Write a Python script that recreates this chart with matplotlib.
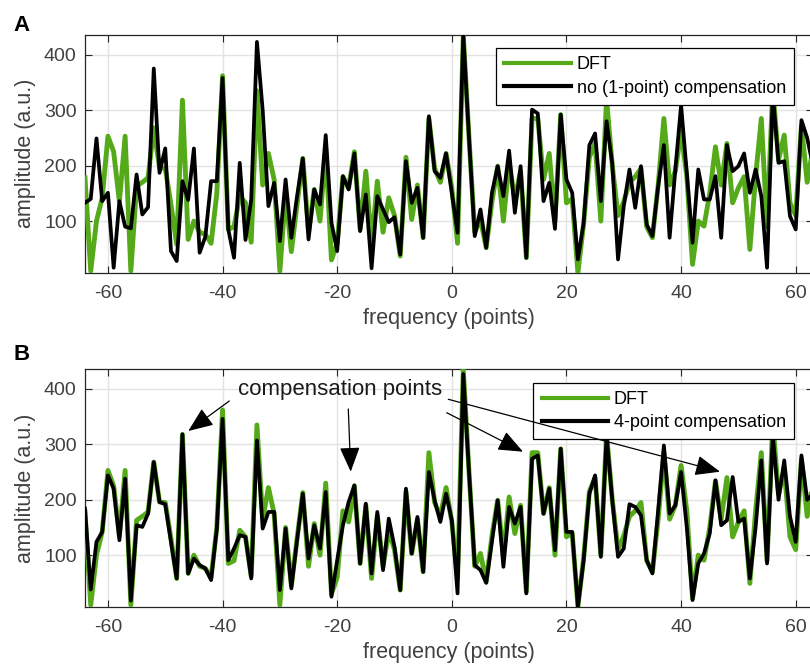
import numpy as np
import matplotlib
matplotlib.use("Agg")
import matplotlib.pyplot as plt
from matplotlib.lines import Line2D

plt.rcParams['font.family'] = ['Liberation Sans', 'DejaVu Sans']
plt.rcParams['axes.unicode_minus'] = False

freq = np.arange(-64, 64)

dft = [178, 10, 100, 142, 253, 225, 135, 253, 10, 163,
       170, 178, 268, 196, 195, 130, 58, 318, 67, 100,
       80, 76, 60, 150, 362, 85, 90, 145, 133, 62,
       335, 165, 222, 175, 10, 150, 45, 130, 213, 80,
       157, 100, 230, 30, 60, 180, 160, 225, 85, 190,
       58, 172, 80, 142, 110, 37, 215, 103, 165, 70,
       285, 195, 170, 222,
       160, 60, 436, 250, 80, 103, 52, 135, 199, 100,
       205, 139, 190, 34, 285, 285, 175, 222, 100, 292,
       133, 140, 7, 95, 215, 240, 100, 320, 200, 110,
       135, 170, 180, 195, 90, 70, 165, 285, 165, 190,
       262, 180, 22, 100, 91, 150, 234, 165, 240, 133,
       160, 180, 49, 180, 285, 90, 340, 210, 255, 133,
       110, 273, 170, 230]

no_comp = [133, 140, 249, 136, 151, 16, 136, 90, 87, 184,
           112, 125, 375, 187, 231, 46, 28, 172, 138, 231,
           43, 72, 172, 172, 358, 85, 34, 205, 66, 139,
           423, 300, 127, 169, 64, 175, 70, 145, 213, 67,
           157, 130, 255, 97, 46, 181, 157, 222, 82, 148,
           15, 145, 121, 98, 107, 40, 208, 133, 160, 70,
           289, 190, 178, 222,
           150, 79, 436, 250, 73, 121, 52, 151, 199, 145,
           227, 115, 199, 34, 301, 294, 136, 169, 86, 292,
           175, 151, 31, 97, 237, 258, 136, 280, 203, 31,
           127, 193, 124, 199, 94, 73, 163, 237, 70, 193,
           309, 187, 61, 193, 139, 139, 181, 70, 237, 190,
           199, 222, 151, 193, 145, 16, 330, 205, 208, 109,
           85, 282, 250, 200]

comp4 = [184, 38, 124, 142, 244, 220, 127, 238, 18, 154,
         151, 175, 268, 196, 192, 124, 58, 318, 67, 94,
         82, 76, 55, 148, 346, 91, 112, 136, 133, 58,
         307, 148, 178, 178, 37, 148, 40, 127, 211, 94,
         154, 112, 214, 25, 91, 154, 196, 226, 85, 193,
         67, 178, 73, 166, 115, 37, 220, 103, 169, 70,
         250, 199, 160, 211,
         163, 31, 427, 250, 82, 73, 50, 124, 199, 79,
         187, 157, 187, 31, 274, 280, 175, 220, 109, 292,
         142, 142, 7, 91, 211, 244, 97, 315, 199, 97,
         112, 192, 187, 172, 91, 67, 181, 298, 175, 190,
         250, 150, 19, 85, 103, 139, 235, 154, 163, 241,
         160, 166, 58, 150, 271, 85, 316, 200, 271, 170,
         124, 280, 200, 210]

xticks = [-60, -40, -20, 0, 20, 40, 60]
yticks = [100, 200, 300, 400]

GREEN = '#55AA1A'
TXT = '#404040'
W, H = 810, 670

fig = plt.figure(figsize=(W / 100, H / 100), dpi=100)


def px_axes(left, top, right, bottom):
    return fig.add_axes([left / W, 1 - bottom / H, (right - left) / W, (bottom - top) / H])


axA = px_axes(85, 34.7, 812.9, 272.7)
axB = px_axes(85, 369.0, 812.9, 606.7)

panels = [(axA, no_comp, 'no (1-point) compensation', (794, 48.3)),
          (axB, comp4, '4-point compensation', (794, 382.7))]

for ax, black, lab, (lx, ly) in panels:
    ax.plot(freq, dft, color=GREEN, lw=3.5, label='DFT', zorder=3)
    ax.plot(freq, black, color='black', lw=2.7, label=lab, zorder=4)
    ax.set_xlim(-64, 63)
    ax.set_ylim(7, 436)
    ax.set_xticks(xticks)
    ax.set_yticks(yticks)
    ax.grid(True, color='#e3e3e3', lw=1.0, zorder=0)
    ax.set_axisbelow(True)
    ax.tick_params(direction='in', length=5, width=0.8, top=True, right=True,
                   labelsize=14, colors='#262626', labelcolor=TXT)
    ax.tick_params(axis='x', pad=9)
    ax.tick_params(axis='y', pad=6)
    for s in ax.spines.values():
        s.set_color('#262626')
        s.set_linewidth(0.9)
    ax.set_xlabel('frequency (points)', fontsize=15.5, color=TXT, labelpad=4)
    ax.set_ylabel('amplitude (a.u.)', fontsize=15.5, color=TXT, labelpad=6)
    handles = [Line2D([], [], color=GREEN, lw=3), Line2D([], [], color='black', lw=3)]
    leg = ax.legend(handles, ['DFT', lab], loc='upper right',
                    bbox_to_anchor=(lx / W, 1 - ly / H), bbox_transform=fig.transFigure,
                    borderaxespad=0, fontsize=13, handlelength=3.7, handletextpad=0.3,
                    borderpad=0.45, labelspacing=0.35, fancybox=False, framealpha=1,
                    edgecolor='black')
    leg.get_frame().set_linewidth(0.9)
    leg.set_zorder(10)

fig.text(13 / W, 1 - 15 / H, 'A', fontsize=16, fontweight='bold', ha='left', va='top')
fig.text(13 / W, 1 - 344 / H, 'B', fontsize=16, fontweight='bold', ha='left', va='top')


def fp(x, y):
    return (x / W, 1 - y / H)


fig.text(*fp(340.3, 390), 'compensation points', fontsize=16, color='#1a1a1a',
         ha='center', va='center', zorder=20)

arrows = [((229.3, 401), (188.3, 431)),
          ((348.3, 409), (350.7, 471.7)),
          ((446.7, 412.7), (523, 451.7)),
          ((448.3, 399.3), (720, 471.7))]
for tail, tip in arrows:
    axB.annotate('', xy=fp(*tip), xycoords='figure fraction',
                 xytext=fp(*tail), textcoords='figure fraction',
                 arrowprops=dict(arrowstyle='-|>,head_length=1.1,head_width=0.45',
                                 color='black', lw=0.9, shrinkA=0, shrinkB=0,
                                 mutation_scale=14),
                 zorder=20, annotation_clip=False)

fig.savefig('out.png', dpi=100)
